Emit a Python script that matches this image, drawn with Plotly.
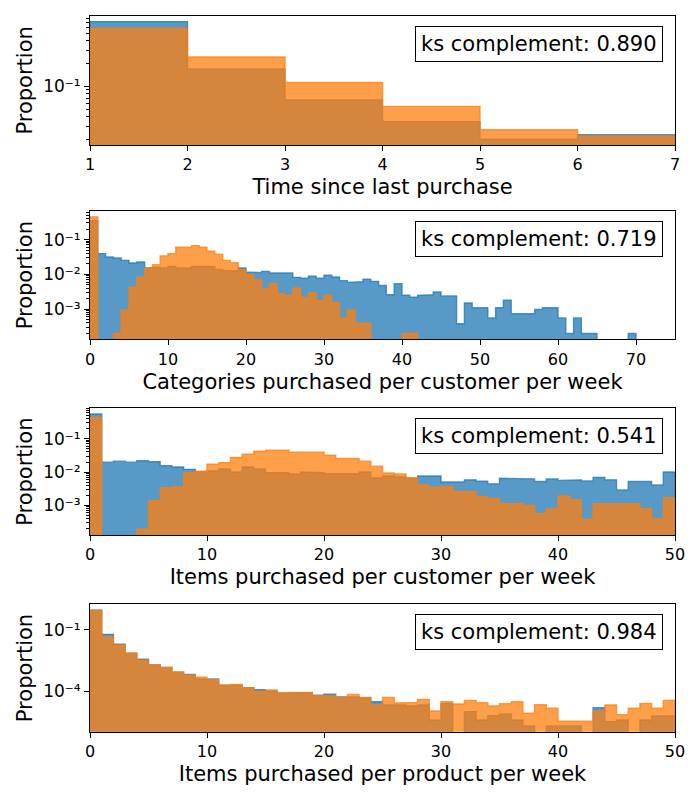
import math
import plotly.graph_objects as go

# ---------------- data ----------------
time_edges = [1, 2, 3, 4, 5, 6, 7]
time_real = [0.72, 0.17, 0.0665, 0.0344, 0.0202, 0.0231]
time_synth = [0.59, 0.245, 0.113, 0.0546, 0.0268, 0.0222]

cat_edges = list(range(0, 76))
cat_real = [0.35, 0.0395, 0.0316, 0.0295, 0.0253, 0.0212, 0.0227, 0.0155, 0.0159, 0.0152,
            0.0170, 0.0152, 0.0152, 0.0170, 0.0163, 0.0170, 0.0139, 0.0130, 0.0125, 0.0152,
            0.0117, 0.0112, 0.0122, 0.0109, 0.0109, 0.0109, 0.0082, 0.0078, 0.0089, 0.0078,
            0.0094, 0.0084, 0.0066, 0.0059, 0.0062, 0.0072, 0.0063, 0.0048, 0.0026, 0.0054,
            0.0025, 0.0022, 0.0025, 0.0026, 0.0031, 0.0024, 0.0024, 0.00038, 0.0015, 0.0011,
            0.0011, 0.00056, 0.0011, 0.0018, 0.00074, 0.00074, 0.00074, 0.00098, 0.0011, 0.0011,
            0.00056, 0.0002, 0.00056, 0.0002, 0.0002, 0, 0, 0, 0, 0.0002,
            0, 0, 0, 0, 0]
cat_synth = [0.45, 0, 0, 0.000204, 0.00095, 0.0043, 0.0084, 0.0152, 0.019, 0.034,
             0.0395, 0.060, 0.060, 0.067, 0.060, 0.046, 0.0377, 0.0253, 0.0217, 0.0139,
             0.0098, 0.0069, 0.00386, 0.0055, 0.00276, 0.00248, 0.00404, 0.00217, 0.00295, 0.00174,
             0.00248, 0.00152, 0.00056, 0.00095, 0.000394, 0.000394, 0, 0, 0, 0,
             0.0002, 0.0002, 0, 0, 0, 0, 0, 0, 0, 0,
             0, 0, 0, 0, 0, 0, 0, 0, 0, 0,
             0, 0, 0, 0, 0, 0, 0, 0, 0, 0,
             0, 0, 0, 0, 0]

cust_edges = list(range(0, 51))
cust_real = [0.553, 0.0198, 0.0212, 0.0198, 0.0217, 0.0203, 0.0154, 0.0141, 0.0120, 0.0103,
             0.0107, 0.0123, 0.0100, 0.0141, 0.0123, 0.0095, 0.0095, 0.0087, 0.0100, 0.0095,
             0.0089, 0.0089, 0.0089, 0.0100, 0.0066, 0.0076, 0.0072, 0.0065, 0.0076, 0.0076,
             0.0050, 0.0050, 0.0058, 0.0053, 0.0044, 0.0065, 0.0065, 0.0062, 0.0052, 0.0062,
             0.0056, 0.0058, 0.0054, 0.0069, 0.0058, 0.0029, 0.0052, 0.0052, 0.0041, 0.0100]
cust_synth = [0.44, 0, 0, 0, 0.00019, 0.00138, 0.00335, 0.00358, 0.0095, 0.0105,
              0.0173, 0.0189, 0.0273, 0.0343, 0.042, 0.045, 0.045, 0.040, 0.0393, 0.0393,
              0.032, 0.0255, 0.0255, 0.0212, 0.0150, 0.0093, 0.0087, 0.0067, 0.0041, 0.0035,
              0.0037, 0.0026, 0.0026, 0.00185, 0.0016, 0.00112, 0.00112, 0.00098, 0.00057, 0.00078,
              0.0019, 0.00148, 0.00038, 0.00112, 0.00112, 0.00112, 0.00112, 0.00079, 0.0004, 0.0017]

prod_edges = list(range(0, 51))
prod_real = [0.88, 0.0594, 0.0195, 0.0072, 0.00367, 0.00195, 0.00145, 0.00085, 0.00066, 0.0004,
             0.0004, 0.0002, 0.0002, 0.00015, 0.00012, 0.000104, 0.000083, 0.000083, 0.000086, 0.0000645,
             0.000074, 0.000055, 0.000053, 4.9e-5, 3.16e-5, 2.19e-5, 2.19e-5, 1.95e-5, 2.19e-5, 4.1e-6,
             2.63e-5, 0, 1.04e-5, 4.1e-6, 6.65e-6, 8.0e-6, 4.1e-6, 2.1e-6, 0, 2.1e-6,
             2.1e-6, 2.1e-6, 0, 1.62e-5, 3.4e-6, 4.1e-6, 0, 4.1e-6, 6.4e-6, 6.4e-6]
prod_synth = [0.895, 0.0442, 0.0181, 0.0071, 0.00328, 0.00195, 0.00145, 0.00088, 0.00062, 0.00049,
              0.00037, 0.0002, 0.00022, 0.00015, 0.0001, 0.000116, 0.000083, 0.0000895, 0.0000895, 0.000064,
              0.0000594, 0.0000513, 0.0000716, 5.1e-5, 2.19e-5, 5.1e-5, 2.72e-5, 2.93e-5, 4.1e-5, 1.12e-5,
              3.16e-5, 2.45e-5, 3.67e-5, 2.83e-5, 1.95e-5, 2.53e-5, 3.16e-5, 8.6e-6, 2.26e-5, 1.51e-5,
              3.55e-6, 3.55e-6, 3.55e-6, 1.08e-5, 2.19e-5, 7.4e-6, 1.51e-5, 2.63e-5, 1.51e-5, 3.67e-5]

x_titles = ["Time since last purchase",
            "Categories purchased per customer per week",
            "Items purchased per customer per week",
            "Items purchased per product per week"]
ks_values = [0.890, 0.719, 0.541, 0.984]
x_ranges = [[1, 7], [0, 75], [0, 50], [0, 50]]
x_tickvals = [[1, 2, 3, 4, 5, 6, 7], [0, 10, 20, 30, 40, 50, 60, 70],
              [0, 10, 20, 30, 40, 50], [0, 10, 20, 30, 40, 50]]
y_tick_exps = [[-1], [-1, -2, -3], [-1, -2, -3], [-1, -4]]
show_minor = [True, True, True, False]

panels = [(time_edges, time_real, time_synth),
          (cat_edges, cat_real, cat_synth),
          (cust_edges, cust_real, cust_synth),
          (prod_edges, prod_real, prod_synth)]

# ---------------- layout geometry (pixels in the 700x800 window) ----------------
OFF = 8  # default page margin of the html body
W, H = 700 - OFF, 800 - 2 * OFF
x_left, x_right = 90 - OFF, 675 - OFF
panel_px = [(15.7, 145), (211, 339.3), (408.3, 535), (604.3, 731.7)]

BLUE = "rgba(31,119,180,0.75)"
ORANGE = "rgba(255,127,14,0.75)"
FONT = "DejaVu Sans"
SUP = str.maketrans("-0123456789", "\u207b\u2070\u00b9\u00b2\u00b3\u2074\u2075\u2076\u2077\u2078\u2079")


def step_trace(edges, vals, color, xa, ya, floor):
    xs, ys = [edges[0]], [floor]
    for i, v in enumerate(vals):
        h = v if v > 0 else floor
        xs += [edges[i], edges[i + 1]]
        ys += [h, h]
    xs.append(edges[-1])
    ys.append(floor)
    return go.Scatter(x=xs, y=ys, mode="lines", fill="toself", fillcolor=color,
                      line=dict(color=color, width=1.4), xaxis=xa, yaxis=ya,
                      hoverinfo="skip", showlegend=False)


fig = go.Figure()
layout = dict(width=W, height=H, margin=dict(l=0, r=0, t=0, b=0),
              paper_bgcolor="white", plot_bgcolor="white",
              font=dict(family=FONT, color="black", size=16), showlegend=False)
annotations = []

for k, (edges, real, synth) in enumerate(panels):
    n = k + 1
    xa = "x" if n == 1 else f"x{n}"
    ya = "y" if n == 1 else f"y{n}"
    pos = [v for v in real + synth if v > 0]
    lo, hi = math.log10(min(pos)), math.log10(max(pos))
    span = hi - lo
    yr = [lo - 0.05 * span, hi + 0.05 * span]
    floor = 10 ** (yr[0] - 2)

    fig.add_trace(step_trace(edges, real, BLUE, xa, ya, floor))
    fig.add_trace(step_trace(edges, synth, ORANGE, xa, ya, floor))

    top, bot = panel_px[k]
    top -= OFF
    bot -= OFF
    xdom = [x_left / W, x_right / W]
    ydom = [1 - bot / H, 1 - top / H]

    minor = None
    if show_minor[k]:
        mv = []
        for e in range(math.floor(yr[0]) - 1, math.ceil(yr[1]) + 1):
            for m in range(2, 10):
                v = m * 10 ** e
                if yr[0] <= math.log10(v) <= yr[1]:
                    mv.append(v)
        minor = dict(tickmode="array", tickvals=mv, ticks="outside", ticklen=2.8,
                     tickwidth=0.8, tickcolor="black", showgrid=False)

    layout["xaxis" + ("" if n == 1 else str(n))] = dict(
        domain=xdom, anchor=ya, range=x_ranges[k], tickmode="array",
        tickvals=x_tickvals[k], ticktext=[str(v) for v in x_tickvals[k]],
        showline=True, linecolor="black", linewidth=1, mirror=True,
        ticks="outside", ticklen=5, tickwidth=1, tickcolor="black",
        tickfont=dict(size=16, family=FONT, color="black"), showgrid=False, zeroline=False,
        title=dict(text=x_titles[k], font=dict(size=21, family=FONT, color="black"), standoff=6),
        automargin=False)
    yaxis = dict(
        domain=ydom, anchor=xa, type="log", range=yr, tickmode="array",
        tickvals=[10 ** e for e in y_tick_exps[k]],
        ticktext=["10" + str(e).translate(SUP) for e in y_tick_exps[k]],
        showline=True, linecolor="black", linewidth=1, mirror=True,
        ticks="outside", ticklen=5, tickwidth=1, tickcolor="black",
        tickfont=dict(size=17, family=FONT, color="black"), showgrid=False, zeroline=False,
        title=dict(text="Proportion", font=dict(size=21, family=FONT, color="black"), standoff=4),
        automargin=False)
    if minor:
        yaxis["minor"] = minor
    layout["yaxis" + ("" if n == 1 else str(n))] = yaxis

    annotations.append(dict(
        text=f"ks complement: {ks_values[k]:.3f}", xref=f"{xa} domain", yref=f"{ya} domain",
        x=1 - 12 / (x_right - x_left), y=1 - 10 / (bot - top), xanchor="right", yanchor="top",
        showarrow=False, bgcolor="white", bordercolor="black", borderwidth=1, borderpad=5,
        font=dict(size=21, family=FONT, color="black")))

layout["annotations"] = annotations
fig.update_layout(**layout)
fig.write_html("out.html")
